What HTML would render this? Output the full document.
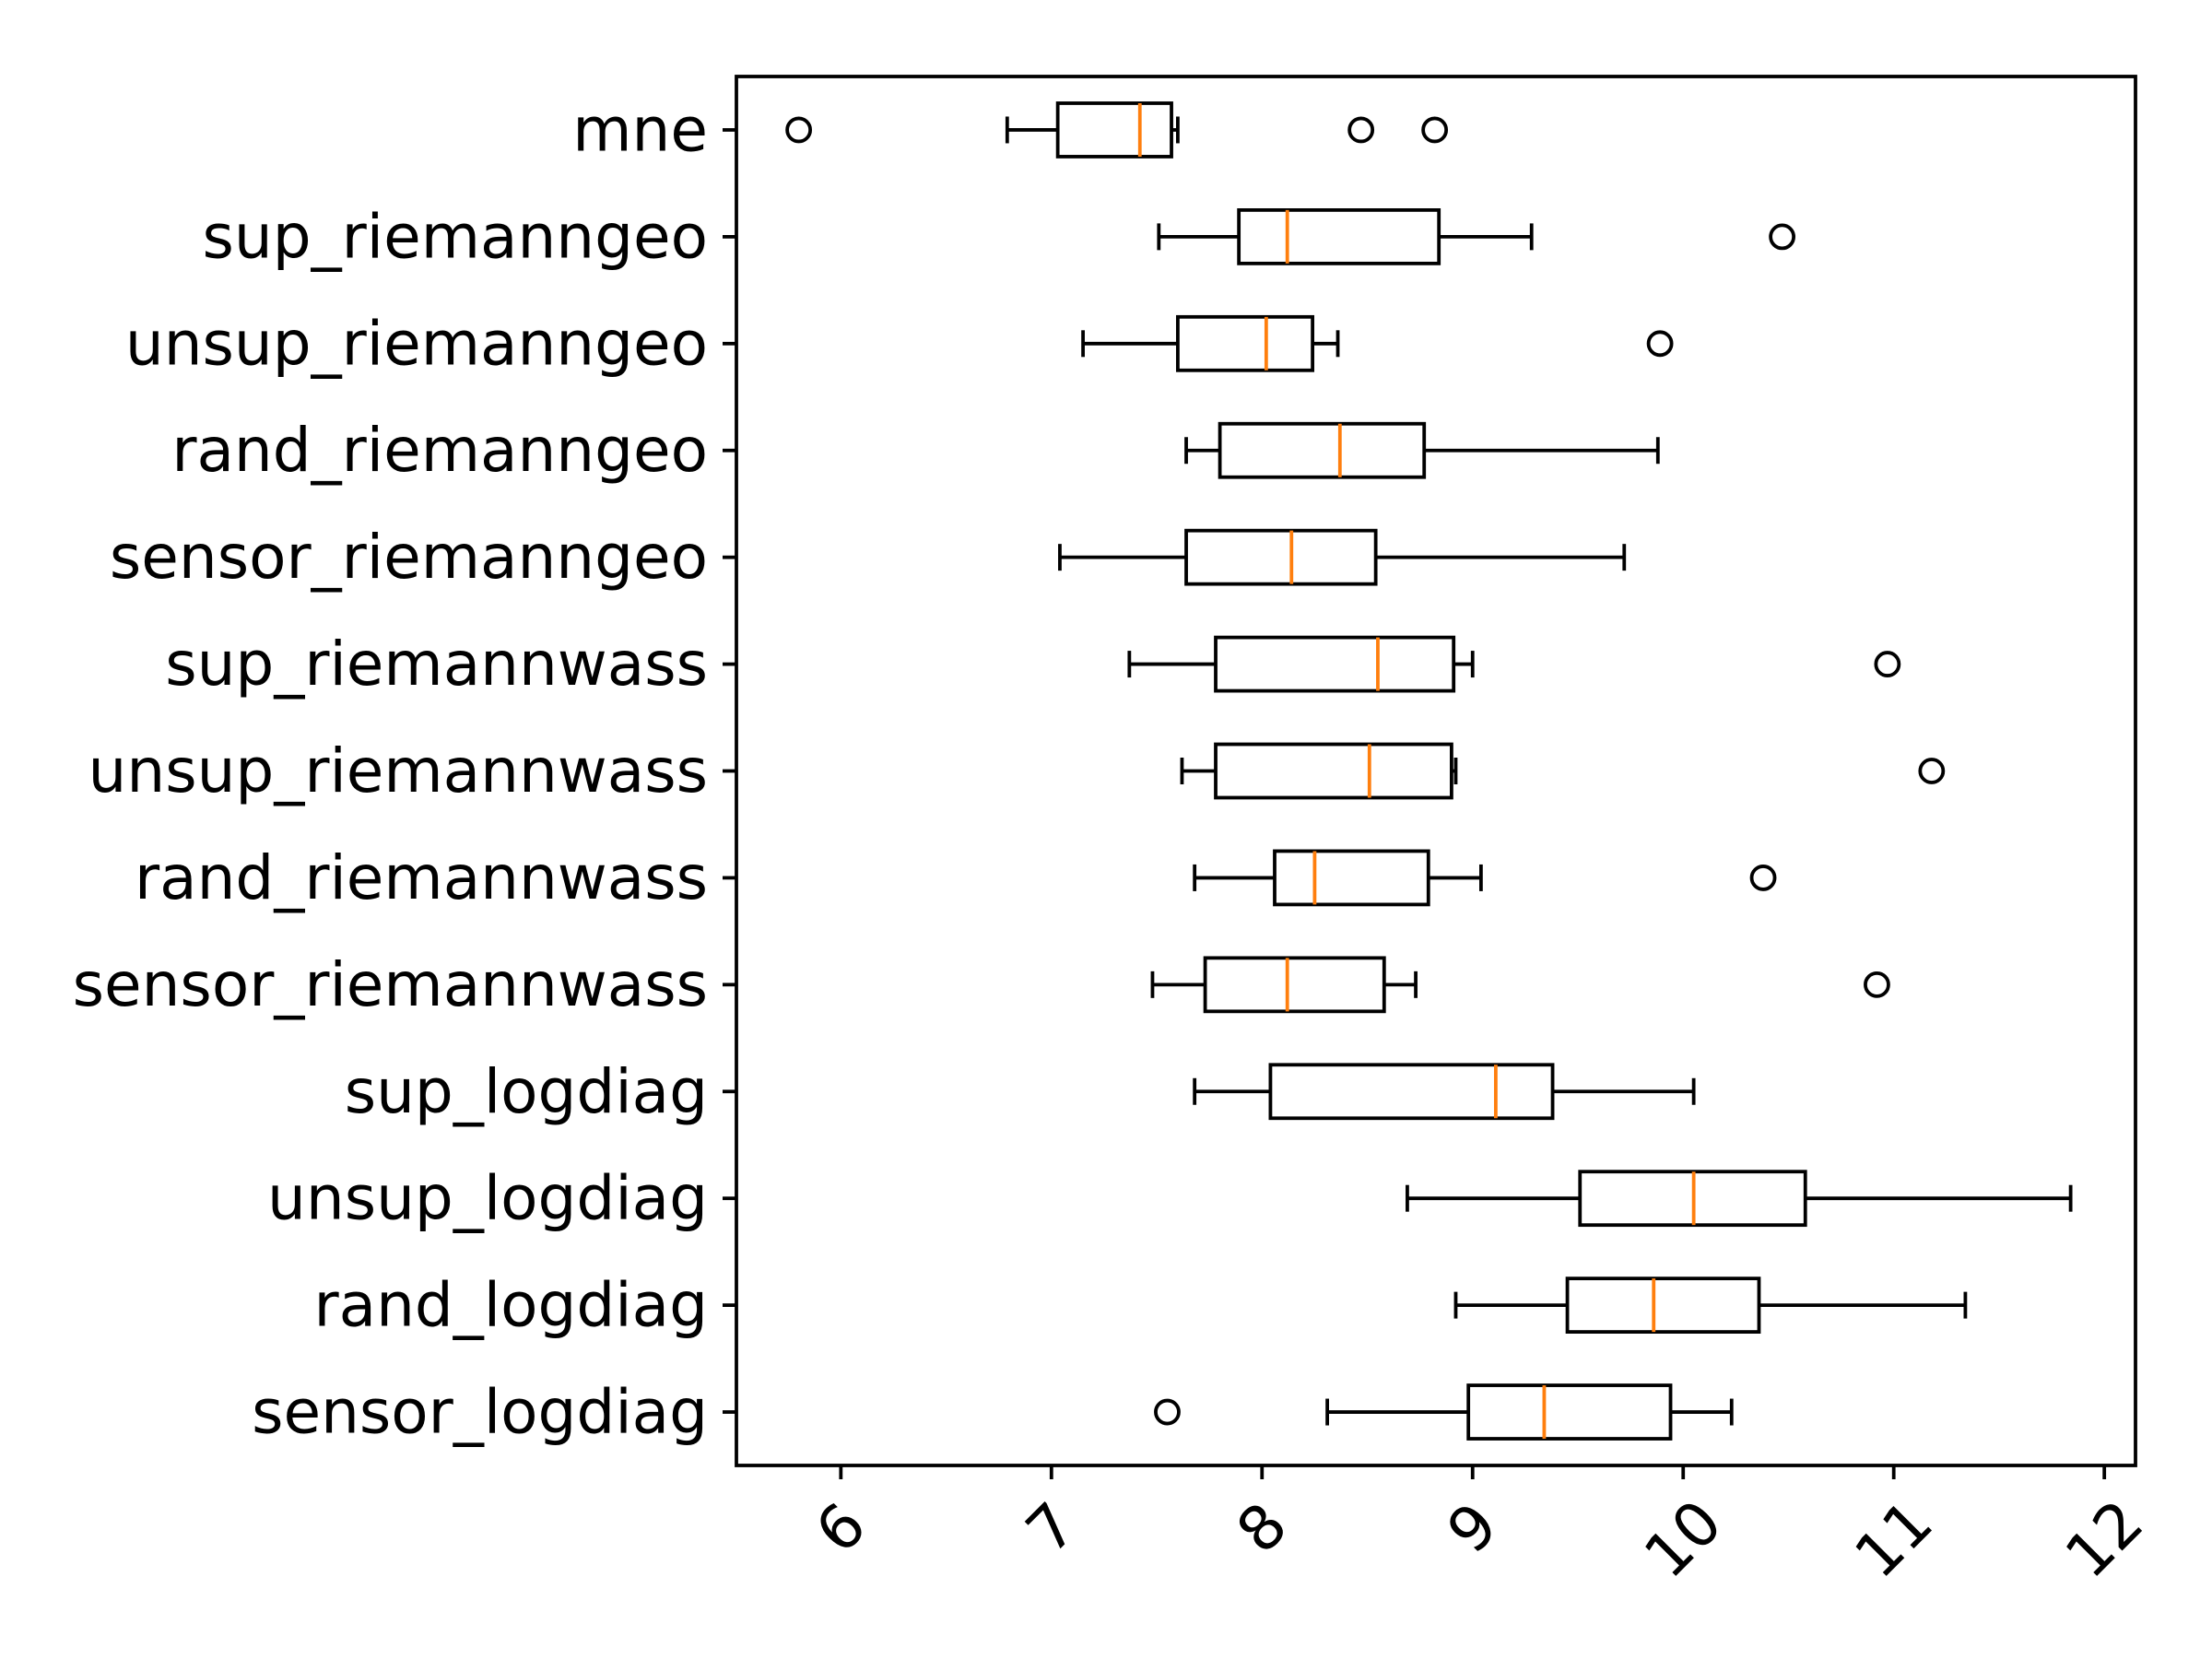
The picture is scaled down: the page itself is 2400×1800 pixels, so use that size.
<!DOCTYPE html>
<html><head><meta charset="utf-8"><style>html,body{margin:0;padding:0;background:#fff}svg{display:block}</style></head>
<body>
<svg id="chart" width="2400" height="1800" viewBox="0 0 2400 1800" xmlns="http://www.w3.org/2000/svg" font-family="'DejaVu Sans','Liberation Sans',sans-serif"></svg>
<script>
const categories = ["mne","sup_riemanngeo","unsup_riemanngeo","rand_riemanngeo","sensor_riemanngeo","sup_riemannwass","unsup_riemannwass","rand_riemannwass","sensor_riemannwass","sup_logdiag","unsup_logdiag","rand_logdiag","sensor_logdiag"];
const whiskerLow = [6.79,7.51,7.15,7.64,7.04,7.37,7.62,7.68,7.48,7.68,8.69,8.92,8.31];
const q1 = [7.03,7.89,7.60,7.80,7.64,7.78,7.78,8.06,7.73,8.04,9.51,9.45,8.98];
const median = [7.42,8.12,8.02,8.37,8.14,8.55,8.51,8.25,8.12,9.11,10.05,9.86,9.34];
const q3 = [7.57,8.84,8.24,8.77,8.54,8.91,8.90,8.79,8.58,9.38,10.58,10.36,9.94];
const whiskerHigh = [7.60,9.28,8.36,9.88,9.72,9.00,8.92,9.04,8.73,10.05,11.84,11.34,10.23];
const fliers = [[5.80,8.47,8.82],[10.47],[9.89],[],[],[10.97],[11.18],[10.38],[10.92],[],[],[],[7.55]];
const xTicks = [6,7,8,9,10,11,12];

const NS="http://www.w3.org/2000/svg";
const svg=document.getElementById('chart');
const L=799,R=2317,T=83,B=1590;
const xmin=5.504,xmax=12.148;
const xs=v=>L+(v-xmin)/(xmax-xmin)*(R-L);
const step=(B-T)/categories.length;
const ys=i=>T+step*(i+0.5);
function el(tag,attrs){const e=document.createElementNS(NS,tag);for(const k in attrs)e.setAttribute(k,attrs[k]);svg.appendChild(e);return e;}
const lw=3.8, bh=step*0.25;
categories.forEach((c,i)=>{
  const y=ys(i);
  let e;
  e=el('line',{x1:xs(whiskerLow[i]),x2:xs(q1[i]),y1:y,y2:y,stroke:'#000','stroke-width':lw});
  
  e=el('line',{x1:xs(q3[i]),x2:xs(whiskerHigh[i]),y1:y,y2:y,stroke:'#000','stroke-width':lw});
  
  e=el('line',{x1:xs(whiskerLow[i]),x2:xs(whiskerLow[i]),y1:y-bh/2,y2:y+bh/2,stroke:'#000','stroke-width':lw});
  
  e=el('line',{x1:xs(whiskerHigh[i]),x2:xs(whiskerHigh[i]),y1:y-bh/2,y2:y+bh/2,stroke:'#000','stroke-width':lw});
  
  e=el('rect',{x:xs(q1[i]),y:y-bh,width:xs(q3[i])-xs(q1[i]),height:bh*2,fill:'none',stroke:'#000','stroke-width':lw});
  
  e=el('line',{x1:xs(median[i]),x2:xs(median[i]),y1:y-bh,y2:y+bh,stroke:'#ff7f0e','stroke-width':lw});
  
  fliers[i].forEach(f=>{
    e=el('circle',{cx:xs(f),cy:y,r:12.5,fill:'none',stroke:'#000','stroke-width':lw});
    
  });
  e=el('line',{x1:L-15,x2:L,y1:y,y2:y,stroke:'#000','stroke-width':lw});
  
  e=el('text',{x:L-31,y:y,'text-anchor':'end','dominant-baseline':'central','font-size':66,fill:'#000'});
  e.textContent=c;
  
});
xTicks.forEach(t=>{
  const x=xs(t);let e;
  e=el('line',{x1:x,x2:x,y1:B,y2:B+15,stroke:'#000','stroke-width':lw});
  
  const cy=B+(String(t).length>1?80:68);
  e=el('text',{x:x,y:cy,'text-anchor':'middle','dominant-baseline':'central','font-size':66,fill:'#000',transform:`rotate(-45 ${x} ${cy})`});
  e.textContent=t;
  
});
const fr=el('rect',{x:L,y:T,width:R-L,height:B-T,fill:'none',stroke:'#000','stroke-width':lw});

</script>
</body></html>
